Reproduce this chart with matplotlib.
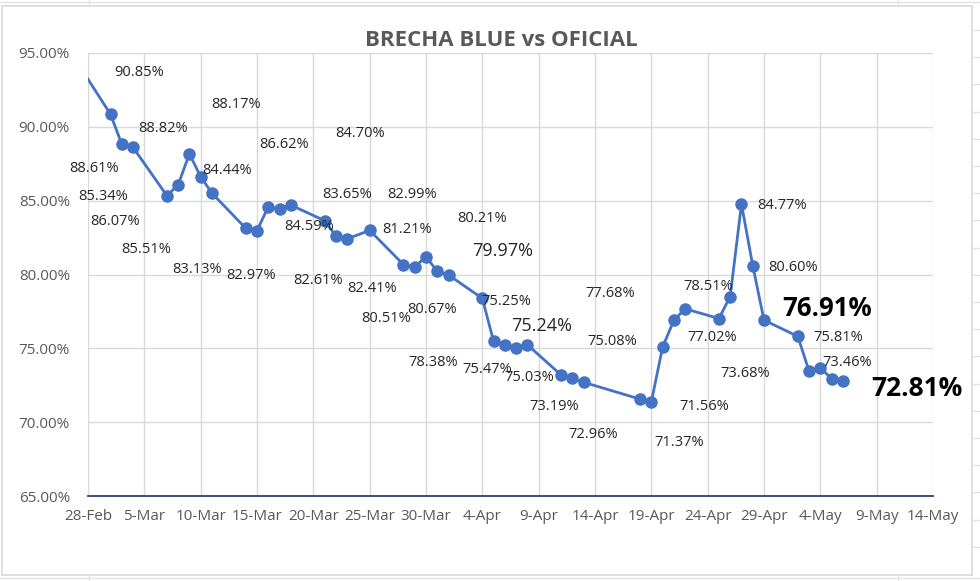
import matplotlib
matplotlib.use("Agg")
import matplotlib.pyplot as plt
import matplotlib.dates as mdates
from matplotlib.patches import Rectangle
from matplotlib.lines import Line2D
import pandas as pd

# ---------------- data ----------------
dates = ["2021-02-27", "2021-03-02", "2021-03-03", "2021-03-04", "2021-03-07", "2021-03-08",
         "2021-03-09", "2021-03-10", "2021-03-11", "2021-03-14", "2021-03-15", "2021-03-16",
         "2021-03-17", "2021-03-18", "2021-03-21", "2021-03-22", "2021-03-23", "2021-03-25",
         "2021-03-28", "2021-03-29", "2021-03-30", "2021-03-31", "2021-04-01", "2021-04-04",
         "2021-04-05", "2021-04-06", "2021-04-07", "2021-04-08", "2021-04-11", "2021-04-12",
         "2021-04-13", "2021-04-18", "2021-04-19", "2021-04-20", "2021-04-21", "2021-04-22",
         "2021-04-25", "2021-04-26", "2021-04-27", "2021-04-28", "2021-04-29", "2021-05-02",
         "2021-05-03", "2021-05-04", "2021-05-05", "2021-05-06"]
brecha = [94.41, 90.85, 88.82, 88.61, 85.34, 86.07,
          88.17, 86.62, 85.51, 83.13, 82.97, 84.59,
          84.44, 84.70, 83.65, 82.61, 82.41, 82.99,
          80.67, 80.51, 81.21, 80.21, 79.97, 78.38,
          75.47, 75.25, 75.03, 75.24, 73.19, 72.96,
          72.70, 71.56, 71.37, 75.08, 76.90, 77.68,
          77.02, 78.51, 84.77, 80.60, 76.91, 75.81,
          73.46, 73.68, 72.95, 72.81]

x_start = "2021-02-28"
x_end = "2021-05-14"
y_ticks = [65, 70, 75, 80, 85, 90, 95]

# data labels (text as shown in chart)
lab_text = ["90.85%", "88.17%", "88.82%", "86.62%", "88.61%", "84.44%", "85.34%", "86.07%",
            "84.59%", "85.51%", "83.13%", "82.97%", "82.61%", "84.70%", "83.65%", "82.99%",
            "80.21%", "81.21%", "79.97%", "82.41%", "77.68%", "75.25%", "80.67%", "80.51%",
            "75.24%", "75.08%", "78.38%", "75.47%", "75.03%", "73.19%", "72.96%", "84.77%",
            "80.60%", "78.51%", "76.91%", "75.81%", "77.02%", "73.46%", "73.68%", "72.81%",
            "71.56%", "71.37%"]
# label positions (days after 28-Feb, value in %)
lab_day = [4.52, 13.18, 6.68, 17.38, 0.56, 12.38, 1.30, 2.39,
           19.59, 5.20, 9.64, 14.45, 20.39, 24.11, 23.02, 28.79,
           34.99, 28.31, 36.76, 25.24, 46.37, 37.17, 30.52, 26.48,
           40.22, 46.54, 30.61, 35.43, 39.12, 41.34, 44.83, 61.59,
           62.62, 55.08, 65.58, 66.61, 55.43, 67.35, 58.31, 73.61,
           54.70, 52.48]
lab_val = [93.66, 91.53, 89.89, 88.83, 87.18, 87.03, 85.27, 83.60,
           83.24, 81.69, 80.32, 79.93, 79.59, 89.57, 85.39, 85.39,
           83.76, 83.02, 81.62, 79.03, 78.72, 78.18, 77.61, 77.01,
           76.49, 75.47, 74.01, 73.56, 73.02, 71.03, 69.14, 84.66,
           80.45, 79.19, 77.68, 75.76, 75.72, 74.07, 73.29, 72.28,
           71.08, 68.60]
# style per label: 0 normal, 1 larger, 2 bold large, 3 bold larger
lab_style = [0] * len(lab_text)
lab_style[lab_text.index("79.97%")] = 1
lab_style[lab_text.index("75.24%")] = 1
lab_style[lab_text.index("76.91%")] = 2
lab_style[lab_text.index("72.81%")] = 3

# ---------------- plot ----------------
FONT = ["Open Sans", "DejaVu Sans"]
plt.rcParams["font.family"] = FONT

W, H = 980, 581
fig = plt.figure(figsize=(W / 100, H / 100), dpi=100)
fig.patch.set_facecolor("white")

# spreadsheet background lines outside chart frame
sheet_col = "#E3E3E3"
for yy in [2, 578]:
    fig.add_artist(Line2D([0, 1], [1 - yy / H, 1 - yy / H], color=sheet_col, lw=1))
for yy in [30, 57, 84, 112, 139, 166, 193, 220, 248, 275, 302, 329, 356, 384, 411, 438, 465, 492, 520, 547]:
    fig.add_artist(Line2D([972 / W, 1], [1 - yy / H, 1 - yy / H], color=sheet_col, lw=1))
for xx in [89, 898]:
    fig.add_artist(Line2D([xx / W, xx / W], [1, 1 - 6 / H], color=sheet_col, lw=1))
    fig.add_artist(Line2D([xx / W, xx / W], [0, 1 - 575 / H], color=sheet_col, lw=1))

# chart frame
fig.add_artist(Rectangle((2 / W, 1 - 575 / H), 970 / W, 569 / H, transform=fig.transFigure,
                         facecolor="white", edgecolor="#D9D9D9", lw=1.2, zorder=0))

ax = fig.add_axes([88 / W, 1 - 496 / H, (933 - 88) / W, (496 - 53) / H])
ax.set_facecolor("none")

x = pd.to_datetime(dates)
ax.plot(x, brecha, color="#4472C4", lw=2.0, marker="o", markersize=8,
        markeredgecolor="#4472C4", markerfacecolor="#4472C4", zorder=3, clip_on=True)

x0 = pd.Timestamp(x_start)
x1 = pd.Timestamp(x_end)
ax.set_xlim(x0, x1)
ax.set_ylim(min(y_ticks), max(y_ticks))

ax.set_xticks(pd.date_range(x0, x1, freq="5D"))
ax.xaxis.set_major_formatter(mdates.DateFormatter("%-d-%b"))
ax.set_yticks(y_ticks)
ax.set_yticklabels([f"{v:.2f}%" for v in y_ticks])

ax.grid(True, color="#D9D9D9", lw=1.0)
ax.set_axisbelow(True)
for s in ["top", "right", "left"]:
    ax.spines[s].set_visible(False)
ax.spines["bottom"].set_color("#2F3F6F")
ax.spines["bottom"].set_linewidth(1.3)
ax.spines["bottom"].set_zorder(4)

ax.tick_params(axis="both", length=0, colors="#595959")
ax.tick_params(axis="y", labelsize=11, pad=13)
ax.tick_params(axis="x", pad=9)
for t in ax.get_xticklabels():
    t.set_fontfamily(["Liberation Sans Narrow", "Open Sans", "DejaVu Sans"])
    t.set_fontsize(11)

styles = {0: dict(fontsize=10.5, fontweight="normal"),
          1: dict(fontsize=13, fontweight="normal"),
          2: dict(fontsize=18.5, fontweight="bold"),
          3: dict(fontsize=19, fontweight="bold")}
for txt, d, v, st in zip(lab_text, lab_day, lab_val, lab_style):
    ax.text(x0 + pd.Timedelta(days=d), v, txt, ha="center", va="center",
            color="#262626" if st < 2 else "#000000", clip_on=False, zorder=5, **styles[st])

fig.text(501 / W, 1 - 40 / H, "BRECHA BLUE vs OFICIAL", ha="center", va="center",
         fontsize=16, fontweight="bold", color="#595959")

fig.savefig("out.png", dpi=100)
